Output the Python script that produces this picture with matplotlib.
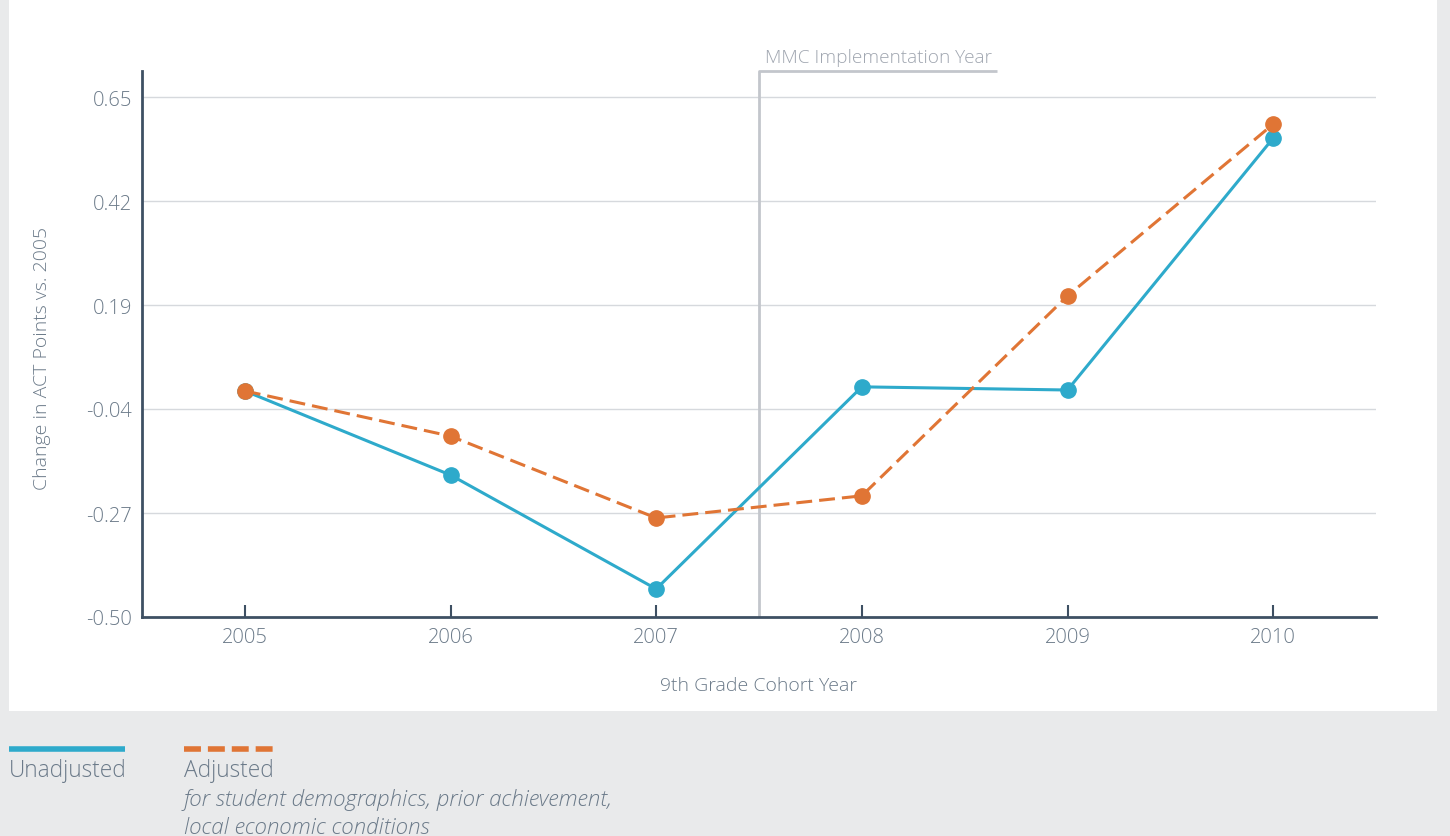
import matplotlib
matplotlib.use("Agg")
import matplotlib.pyplot as plt
from matplotlib.patches import Rectangle
from matplotlib.lines import Line2D

years = [2005, 2006, 2007, 2008, 2009, 2010]
unadjusted = [0.0, -0.186, -0.438, 0.009, 0.002, 0.559]
adjusted = [0.0, -0.10, -0.281, -0.232, 0.21, 0.59]
yticks = [-0.50, -0.27, -0.04, 0.19, 0.42, 0.65]
ytick_labels = ["-0.50", "-0.27", "-0.04", "0.19", "0.42", "0.65"]
mmc_year = 2007.5

BLUE = "#2eaacb"
ORANGE = "#e07535"
TEXT = "#6b7a89"
SPINE = "#3e5063"
GRID = "#d6d9dd"
VLINE = "#c3c6cc"

plt.rcParams['font.family'] = ['Open Sans', 'DejaVu Sans']

W, H = 1450, 837
fig = plt.figure(figsize=(W/100, H/100), dpi=100)
fig.patch.set_facecolor("#e9eaeb")
fig.patches.append(Rectangle((9/W, 1-712/H), (1437-9)/W, 712/H, transform=fig.transFigure,
                             facecolor="white", edgecolor="none", zorder=-10))

ax_l, ax_r = 142/W, 1376/W
ax_b, ax_t = 1-618/H, 1-72/H
ax = fig.add_axes([ax_l, ax_b, ax_r-ax_l, ax_t-ax_b])
ax.set_facecolor("none")
ax.set_xlim(2004.5, 2010.5)
y0 = -0.50
ppu = 520/1.15
ytop = 0.65 + 26/ppu
ax.set_ylim(y0, ytop)

for s in ["top", "right"]:
    ax.spines[s].set_visible(False)
for s in ["left", "bottom"]:
    ax.spines[s].set_color(SPINE)
    ax.spines[s].set_linewidth(2)

ax.set_yticks(yticks)
ax.set_yticklabels(ytick_labels)
ax.tick_params(axis='y', length=0, pad=7, labelsize=14.5, labelcolor=TEXT)
ax.set_xticks(years)
ax.set_xticklabels([str(y) for y in years])
ax.tick_params(axis='x', direction='in', length=9, width=1.5, color=SPINE, pad=7.5,
               labelsize=14.5, labelcolor=TEXT)
for lbl in ax.get_xticklabels() + ax.get_yticklabels():
    lbl.set_fontweight('light')
for yt in yticks[1:]:
    ax.axhline(yt, color=GRID, lw=1, zorder=1)

ax.set_xlabel("9th Grade Cohort Year", fontsize=14, color=TEXT, labelpad=20.5, fontweight='light')
ax.set_ylabel("Change in ACT Points vs. 2005", fontsize=14, color=TEXT, labelpad=24.5, fontweight='light')
ax.yaxis.set_label_coords(-0.0, (618 - 358) / 546)
ax.yaxis.label.set_horizontalalignment('center')
# place label x explicitly: center of text near x=42px
ax.yaxis.set_label_coords((42 - 142) / (1376 - 142) + 0.0, (618 - 358) / 546)
ax.yaxis.label.set_va('center')

# MMC line
ax.plot([mmc_year, mmc_year, mmc_year + 238/206], [y0, ytop, ytop], color=VLINE, lw=2,
        clip_on=False, zorder=2, solid_capstyle='butt')
ax.text(mmc_year + 6/206, ytop + 5/ppu, "MMC Implementation Year", fontsize=13.7, color="#a0a6b0",
        ha='left', va='bottom', fontweight='light')

ax.plot(years, unadjusted, color=BLUE, lw=2.2, marker='o', markersize=11, zorder=4, clip_on=False)
ax.plot(years, adjusted, color=ORANGE, lw=2.2, ls=(0, (5.2, 2.3)), marker='o', markersize=11, zorder=5,
        clip_on=False)

# legend
fig.add_artist(Line2D([9/W, 125/W], [1-750/H]*2, color=BLUE, lw=4, transform=fig.transFigure,
                      solid_capstyle='butt'))
fig.add_artist(Line2D([184/W, 274/W], [1-750/H]*2, color=ORANGE, lw=4, ls=(0, (3.05, 1.25)),
                      transform=fig.transFigure, dash_capstyle='butt'))
fig.text(9/W, 1-771/H, "Unadjusted", fontsize=16.3, color=TEXT, va='center', ha='left', fontweight='light')
fig.text(184/W, 1-771/H, "Adjusted", fontsize=16.3, color=TEXT, va='center', ha='left', fontweight='light')
fig.text(184/W, 1-800/H, "for student demographics, prior achievement,", fontsize=16.1, color=TEXT,
         va='center', ha='left', style='italic', fontweight='light')
fig.text(184/W, 1-828/H, "local economic conditions", fontsize=16.1, color=TEXT,
         va='center', ha='left', style='italic', fontweight='light')

fig.savefig("out.png", dpi=100, facecolor=fig.get_facecolor())
